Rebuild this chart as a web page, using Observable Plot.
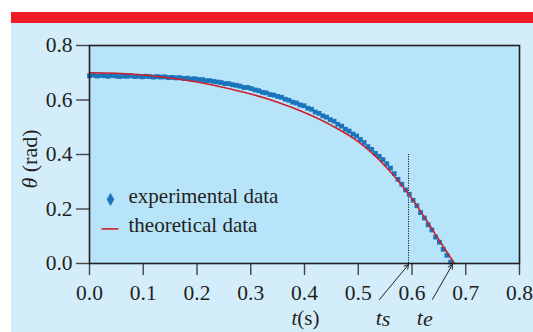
<!DOCTYPE html>
<html><head><meta charset="utf-8">
<script src="https://cdn.jsdelivr.net/npm/d3@7"></script>
<script src="https://cdn.jsdelivr.net/npm/@observablehq/plot@0.6"></script>
<style>
html,body{margin:0;padding:0;background:#fff;}
#wrap{position:absolute;left:11px;top:12px;width:522px;height:320px;}
#bar{height:11px;background:#ee1d25;}
#panel{height:309px;background:#d4edfa;}
svg{display:block;overflow:visible;}
g[aria-label$="tick label"] text{font-size:21.5px;}
</style></head><body>
<div id="wrap"><div id="bar"></div><div id="panel"></div></div>
<script>
// Experimental data (t in s, theta in rad)
const expT = [0.000,0.007,0.014,0.021,0.028,0.035,0.042,0.049,0.056,0.063,0.070,0.077,0.084,0.091,0.098,0.105,0.112,0.119,0.126,0.133,0.140,0.147,0.154,0.161,0.168,0.175,0.182,0.189,0.196,0.203,0.210,0.217,0.224,0.231,0.238,0.245,0.252,0.259,0.266,0.273,0.280,0.287,0.294,0.301,0.308,0.315,0.322,0.329,0.336,0.343,0.350,0.357,0.364,0.371,0.378,0.385,0.392,0.399,0.406,0.413,0.420,0.427,0.434,0.441,0.448,0.455,0.462,0.469,0.476,0.483,0.490,0.497,0.504,0.511,0.518,0.525,0.532,0.539,0.546,0.553,0.560,0.567,0.574,0.581,0.588,0.595,0.602,0.609,0.616,0.623,0.630,0.637,0.644,0.651,0.658,0.665,0.672];
const expTheta = [0.689,0.691,0.688,0.690,0.689,0.687,0.690,0.688,0.686,0.688,0.687,0.689,0.686,0.687,0.685,0.687,0.686,0.684,0.686,0.684,0.685,0.682,0.683,0.681,0.682,0.679,0.680,0.677,0.678,0.675,0.675,0.671,0.671,0.668,0.666,0.664,0.660,0.660,0.656,0.654,0.651,0.646,0.646,0.642,0.637,0.634,0.628,0.626,0.620,0.618,0.613,0.610,0.603,0.599,0.592,0.589,0.582,0.579,0.570,0.566,0.556,0.551,0.542,0.537,0.528,0.522,0.511,0.504,0.493,0.486,0.475,0.468,0.455,0.444,0.429,0.419,0.404,0.393,0.381,0.366,0.350,0.330,0.309,0.291,0.270,0.254,0.232,0.212,0.187,0.167,0.142,0.123,0.097,0.078,0.052,0.030,0.005];
// Theoretical curve
const theoT = [0,0.05,0.1,0.15,0.2,0.25,0.3,0.35,0.4,0.45,0.5,0.55,0.575,0.6,0.625,0.65,0.679];
const theoTheta = [0.700,0.698,0.692,0.681,0.666,0.646,0.622,0.592,0.554,0.507,0.447,0.358,0.302,0.238,0.164,0.087,0.0];
// Axis ticks
const xTicks = [0,0.1,0.2,0.3,0.4,0.5,0.6,0.7,0.8];
const yTicks = [0,0.2,0.4,0.6,0.8];
// Annotations
const tsValue = 0.5935, tsTop = 0.40, teValue = 0.675;
const arrowData = [
  {x1:0.5395, y1:-0.132, x2:tsValue, y2:-0.004},
  {x1:0.638, y1:-0.132, x2:teValue, y2:-0.004}
];
const legendLabels = ["experimental data","theoretical data"];
const legendTextX = 0.0726, legendTextY = [0.2484, 0.1394];
const legendDot = {x:0.039, y:0.235};
const legendLine = {x1:0.0223, x2:0.054, y:0.127};

const blue = "#1a75bc", red = "#cd202c", ink = "#231f20";
const expData = expT.map((t,i)=>({t, v:expTheta[i]}));
const theoData = theoT.map((t,i)=>({t, v:theoTheta[i]}));

const plot = Plot.plot({
  width: 522, height: 309,
  marginLeft: 78, marginRight: 14, marginTop: 22, marginBottom: 69,
  style: {fontFamily: "'Liberation Serif', serif", fontSize: "21px", color: ink, background: "transparent", overflow: "visible"},
  x: {domain: [0, 0.8]},
  y: {domain: [0, 0.8]},
  marks: [
    Plot.frame({fill: "#b7e4f9", stroke: "none"}),
    Plot.ruleX([tsValue], {y1: 0, y2: tsTop, stroke: ink, strokeWidth: 1, strokeDasharray: "1.2,1.2"}),
    Plot.dot(expData, {x: "t", y: "v", symbol: "square", r: 2.7, fill: blue, stroke: "none"}),
    Plot.line(theoData, {x: "t", y: "v", stroke: red, strokeWidth: 1.6, curve: "monotone-x"}),
    Plot.dot([legendDot], {x: "x", y: "y", symbol: "diamond", r: 4, fill: blue}),
    Plot.link([legendLine], {x1: "x1", x2: "x2", y1: "y", y2: "y", stroke: red, strokeWidth: 1.6}),
    Plot.text(legendLabels, {x: legendTextX, y: (d,i)=>legendTextY[i], text: d=>d, textAnchor: "start", lineAnchor: "middle", fontSize: 21, fill: ink}),
    Plot.arrow(arrowData, {x1: "x1", y1: "y1", x2: "x2", y2: "y2", stroke: ink, strokeWidth: 1, headLength: 7, insetStart: 0, insetEnd: 0, clip: false}),
    Plot.axisX({ticks: xTicks, tickFormat: d3.format(".1f"), tickSize: 12, tickPadding: 9, stroke: "#444", strokeWidth: 1.4, label: null, fill: ink}),
    Plot.axisY({ticks: yTicks, tickFormat: d3.format(".1f"), tickSize: 13, tickPadding: 4, stroke: "#444", strokeWidth: 1.4, label: null, fill: ink}),
    Plot.frame({stroke: ink, strokeWidth: 1.6})
  ]
});
document.getElementById("panel").appendChild(plot);

// Axis titles and t_s / t_e labels with italic parts
const svg = d3.select(plot);
const sx = plot.scale("x"), sy = plot.scale("y");
const y0 = sy.apply(0);
const g = svg.append("g").attr("font-family", "'Liberation Serif', serif").attr("font-size", 21).attr("fill", ink);
const tl = g.append("text").attr("x", sx.apply(0.4) + 1.5).attr("y", y0 + 62).attr("text-anchor", "middle");
tl.append("tspan").attr("font-style", "italic").text("t");
tl.append("tspan").text("(s)");
const yl = g.append("text").attr("transform", `translate(26,${(sy.apply(0)+sy.apply(0.8))/2 + 5}) rotate(-90)`).attr("text-anchor", "middle").attr("font-size", 22);
yl.append("tspan").attr("font-style", "italic").text("θ");
yl.append("tspan").text(" (rad)");
const ts = g.append("text").attr("x", sx.apply(tsValue) - 25).attr("y", y0 + 62).attr("font-style", "italic").attr("font-size", 22);
ts.append("tspan").text("t");
ts.append("tspan").attr("dy", 1).text("s");
const te = g.append("text").attr("x", sx.apply(teValue) - 27).attr("y", y0 + 62).attr("font-style", "italic").attr("font-size", 22);
te.append("tspan").text("t");
te.append("tspan").attr("dy", 1).text("e");
</script>
</body></html>
